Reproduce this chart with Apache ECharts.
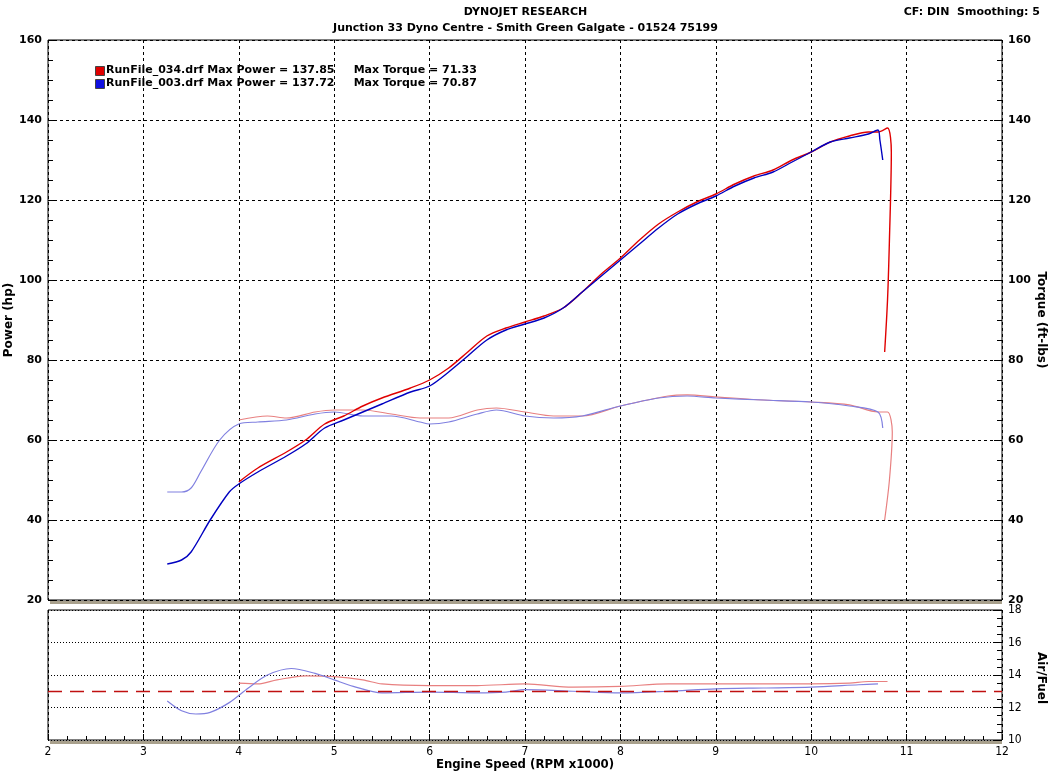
<!DOCTYPE html>
<html>
<head>
<meta charset="utf-8">
<script src="https://cdn.jsdelivr.net/npm/echarts@6/dist/echarts.min.js"></script>
<style>html,body{margin:0;background:#fff}#c{width:1051px;height:773px}</style>
</head>
<body>
<div id="c"></div>
<script>
// power runs (hp) vs rpm x1000
const rpmPowerBlue = [3.25,3.4,3.5,3.7,3.9,4.0,4.2,4.5,4.7,4.9,5.1,5.3,5.5,5.8,6.0,6.2,6.4,6.6,6.8,7.0,7.2,7.4,7.6,7.8,8.0,8.2,8.4,8.6,8.8,9.0,9.2,9.4,9.6,9.8,10.0,10.2,10.4,10.6,10.7,10.72,10.75];
const powerBlue = [29,30,32,40,47,49,52,56,59,63,65,67,69,72,73.5,77,81,85,87.5,89,90.5,93,97,101,105,109,113,116.5,119,121,123.5,125.5,127,129.5,132,134.5,135.5,136.5,137.5,135,130];
const rpmPowerRed = [4.0,4.2,4.5,4.7,4.9,5.1,5.3,5.5,5.8,6.0,6.2,6.4,6.6,6.8,7.0,7.2,7.4,7.6,7.8,8.0,8.2,8.4,8.6,8.8,9.0,9.2,9.4,9.6,9.8,10.0,10.2,10.4,10.6,10.7,10.8,10.84,10.82,10.8,10.77];
const powerRed = [49.5,53,57,60,64,66,68.5,70.5,73,75,78,82,86,88,89.5,91,93,97,101.5,105.5,110,114,117,119.5,121.5,124,126,127.5,130,132,134.5,136,137,137,138,132,110,95,82];
// torque runs (ft-lbs)
const rpmTorqueBlue = [3.25,3.4,3.5,3.6,3.8,4.0,4.2,4.5,4.8,5.0,5.3,5.6,5.9,6.0,6.2,6.5,6.7,7.0,7.3,7.6,8.0,8.4,8.7,9.0,9.5,10.0,10.4,10.7,10.75];
const torqueBlue = [47,47,48,52,60,64,64.5,65,66.5,67,66,66,64.5,64,64.5,66.5,67.5,66,65.5,66,68.5,70.5,71,70.5,70,69.5,68.5,67,63];
const rpmTorqueRed = [4.0,4.3,4.5,4.8,5.0,5.3,5.6,5.9,6.2,6.5,6.7,7.0,7.3,7.6,8.0,8.5,8.7,9.0,9.5,10.0,10.4,10.7,10.8,10.85,10.82,10.77];
const torqueRed = [65,66,65.5,67,67.5,67.5,66.5,65.5,65.5,67.5,68,67,66,66,68.5,71,71.3,70.8,70,69.5,68.8,67,67,62,50,40];
// air/fuel
const rpmAfrBlue = [3.25,3.4,3.55,3.7,3.9,4.1,4.3,4.55,4.8,5.0,5.2,5.5,6.0,6.5,6.8,7.0,7.5,8.0,8.5,9.0,9.5,10.0,10.5,10.7];
const afrBlue = [12.4,11.8,11.6,11.7,12.3,13.2,14.0,14.4,14.1,13.7,13.3,12.9,12.95,12.9,12.95,13.1,13.0,12.9,13.0,13.15,13.2,13.25,13.4,13.45];
const rpmAfrRed = [4.0,4.2,4.4,4.7,5.0,5.3,5.5,6.0,6.5,7.0,7.5,8.0,8.5,9.0,9.5,10.0,10.4,10.6,10.8];
const afrRed = [13.5,13.45,13.7,13.95,13.9,13.7,13.45,13.35,13.35,13.45,13.25,13.3,13.45,13.45,13.45,13.45,13.5,13.6,13.6];
const afrTarget = 13.0;

const zip = (a, b) => a.map((v, i) => [v, b[i]]);
const F = 'DejaVu Sans';
const lbl = {fontFamily: F, fontWeight: 'bold', fontSize: 11, color: '#000'};
const gridBox = {show: true, backgroundColor: '#fff', borderColor: '#000', borderWidth: 1, outerBoundsMode: 'none', containLabel: false};
const vSplit = {show: true, lineStyle: {color: '#000', type: [3, 3], width: 1}};
const nameFont = 'bold 12px "DejaVu Sans"';

const chart = echarts.init(document.getElementById('c'));
chart.setOption({
  animation: false,
  backgroundColor: '#fff',
  grid: [
    Object.assign({left: 48, right: 49, top: 40, height: 560}, gridBox),
    Object.assign({left: 48, right: 49, top: 610, height: 130}, gridBox)
  ],
  title: [
    {text: 'DYNOJET RESEARCH', left: 'center', top: 2, textStyle: Object.assign({}, lbl)},
    {text: 'Junction 33 Dyno Centre - Smith Green Galgate - 01524 75199', left: 'center', top: 18, textStyle: Object.assign({}, lbl)},
    {text: 'CF: DIN  Smoothing: 5', right: 6, top: 2, textStyle: Object.assign({}, lbl)}
  ],
  xAxis: [
    {gridIndex: 0, type: 'value', min: 2, max: 12, interval: 1, axisLabel: {show: false},
     axisLine: {show: false}, axisTick: {show: false}, splitLine: vSplit},
    {gridIndex: 1, type: 'value', min: 2, max: 12, interval: 1,
     axisLabel: {fontFamily: 'DejaVu Sans Condensed', fontSize: 12, color: '#000', margin: 6},
     axisLine: {show: false}, axisTick: {show: true, inside: true, length: 6, lineStyle: {color: '#000'}},
     minorTick: {show: true, splitNumber: 5, length: 4, lineStyle: {color: '#000'}},
     splitLine: vSplit}
  ],
  yAxis: [
    {gridIndex: 0, type: 'value', min: 20, max: 160, interval: 20, position: 'left',
     axisLabel: Object.assign({}, lbl, {margin: 6}),
     axisLine: {show: false}, axisTick: {show: true, inside: true, length: 8, lineStyle: {color: '#000'}},
     minorTick: {show: true, splitNumber: 4, length: 5, lineStyle: {color: '#000'}},
     splitLine: {show: true, lineStyle: {color: '#000', type: [3, 3]}}},
    {gridIndex: 0, type: 'value', min: 20, max: 160, interval: 20, position: 'right',
     axisLabel: Object.assign({}, lbl, {margin: 6}),
     axisLine: {show: false}, axisTick: {show: true, inside: true, length: 8, lineStyle: {color: '#000'}},
     minorTick: {show: true, splitNumber: 4, length: 5, lineStyle: {color: '#000'}},
     splitLine: {show: false}},
    {gridIndex: 1, type: 'value', min: 10, max: 18, interval: 2, position: 'right',
     axisLabel: {fontFamily: 'DejaVu Sans Condensed', fontSize: 12, color: '#000', margin: 6},
     axisLine: {show: false}, axisTick: {show: true, inside: true, length: 8, lineStyle: {color: '#000'}},
     minorTick: {show: true, splitNumber: 4, length: 5, lineStyle: {color: '#000'}},
     splitLine: {show: true, lineStyle: {color: '#000', type: [1, 2]}}}
  ],
  graphic: [
    {type: 'rect', left: 50, top: 601, shape: {width: 952, height: 3}, style: {fill: '#a8a08c'}},
    {type: 'rect', left: 50, top: 741, shape: {width: 952, height: 3}, style: {fill: '#a8a08c'}},
    {type: 'rect', left: 95, top: 66, shape: {width: 9, height: 9}, style: {fill: '#e00000', stroke: '#444'}},
    {type: 'rect', left: 95, top: 79, shape: {width: 9, height: 9}, style: {fill: '#1010e0', stroke: '#444'}},
    {type: 'text', left: 106, top: 65, style: {text: 'RunFile_034.drf Max Power = 137.85     Max Torque = 71.33', font: 'bold 11px "DejaVu Sans"', fill: '#000'}},
    {type: 'text', left: 106, top: 78, style: {text: 'RunFile_003.drf Max Power = 137.72     Max Torque = 70.87', font: 'bold 11px "DejaVu Sans"', fill: '#000'}},
    {type: 'text', x: 9, y: 320, rotation: Math.PI / 2, style: {text: 'Power (hp)', font: nameFont, fill: '#000', align: 'center', verticalAlign: 'middle'}},
    {type: 'text', x: 1041, y: 320, rotation: -Math.PI / 2, style: {text: 'Torque (ft-lbs)', font: nameFont, fill: '#000', align: 'center', verticalAlign: 'middle'}},
    {type: 'text', x: 1041, y: 678, rotation: -Math.PI / 2, style: {text: 'Air/Fuel', font: nameFont, fill: '#000', align: 'center', verticalAlign: 'middle'}},
    {type: 'text', x: 525, y: 765, style: {text: 'Engine Speed (RPM x1000)', font: 'bold 13px "DejaVu Sans Condensed"', fill: '#000', align: 'center', verticalAlign: 'middle'}}
  ],
  series: [
    {type: 'line', xAxisIndex: 0, yAxisIndex: 1, data: zip(rpmTorqueRed, torqueRed), smooth: 0.3, showSymbol: false, lineStyle: {color: '#e88080', width: 1.2}},
    {type: 'line', xAxisIndex: 0, yAxisIndex: 1, data: zip(rpmTorqueBlue, torqueBlue), smooth: 0.3, showSymbol: false, lineStyle: {color: '#8080e0', width: 1.2}},
    {type: 'line', xAxisIndex: 0, yAxisIndex: 0, data: zip(rpmPowerRed, powerRed), smooth: 0.3, showSymbol: false, lineStyle: {color: '#e00000', width: 1.4}},
    {type: 'line', xAxisIndex: 0, yAxisIndex: 0, data: zip(rpmPowerBlue, powerBlue), smooth: 0.3, showSymbol: false, lineStyle: {color: '#0000c0', width: 1.4}},
    {type: 'line', xAxisIndex: 1, yAxisIndex: 2, data: zip(rpmAfrRed, afrRed), smooth: 0.3, showSymbol: false, lineStyle: {color: '#e88080', width: 1.2},
     markLine: {silent: true, symbol: 'none', label: {show: false}, lineStyle: {color: '#c01010', type: [14, 8], width: 1.3}, data: [{yAxis: afrTarget}]}},
    {type: 'line', xAxisIndex: 1, yAxisIndex: 2, data: zip(rpmAfrBlue, afrBlue), smooth: 0.3, showSymbol: false, lineStyle: {color: '#8080e0', width: 1.2}}
  ]
});
</script>
</body>
</html>
